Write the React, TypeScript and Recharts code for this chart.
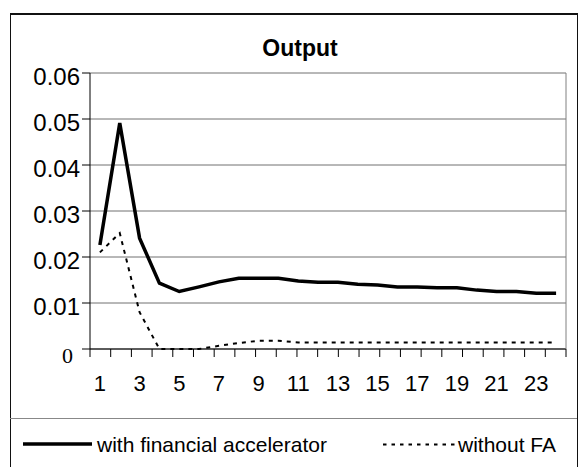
import React from "react";
import {
  LineChart,
  Line,
  XAxis,
  YAxis,
  CartesianGrid,
} from "recharts";

/* ---------- data ---------- */
const periods = [
  "1", "2", "3", "4", "5", "6", "7", "8", "9", "10", "11", "12",
  "13", "14", "15", "16", "17", "18", "19", "20", "21", "22", "23", "24",
];

const withFA = [
  0.0226, 0.0491, 0.0241, 0.0143, 0.0125, 0.0135, 0.0146, 0.0154, 0.0154, 0.0154, 0.0148, 0.0145,
  0.0145, 0.0141, 0.0139, 0.0135, 0.0135, 0.0133, 0.0133, 0.0128, 0.0125, 0.0125, 0.0121, 0.0121,
];

const withoutFA = [
  0.021, 0.0252, 0.008, 0, 0, 0, 0.0007, 0.0013, 0.0018, 0.0018, 0.0014, 0.0014,
  0.0014, 0.0014, 0.0014, 0.0014, 0.0014, 0.0014, 0.0014, 0.0014, 0.0014, 0.0014, 0.0014, 0.0014,
];

const yTicks = [0, 0.01, 0.02, 0.03, 0.04, 0.05, 0.06];
// boundaries between categories (Excel puts tick marks there)
const edgeTicks = Array.from({ length: periods.length + 1 }, (_, i) => i);

const data = periods.map((p, i) => ({
  period: p,
  withFA: withFA[i],
  withoutFA: withoutFA[i],
}));

const FONT = "'Liberation Sans', Arial, Helvetica, sans-serif";

const YTick = ({ x, y, payload }: any) => {
  if (payload.value === 0)
    return (
      <text x={x - 7} y={y + 6} dy="0.355em" textAnchor="end"
        fontFamily="'Liberation Serif', 'Times New Roman', serif" fontSize={22} fill="#000">
        0
      </text>
    );
  return (
    <text x={x} y={y + 3.5} dy="0.355em" textAnchor="end"
      fontFamily={FONT} fontSize={24} fill="#000">
      {payload.value.toFixed(2)}
    </text>
  );
};

const XTick = ({ x, y, payload, index }: any) =>
  index % 2 === 0 ? (
    <text x={x} y={y} dy="0.71em" textAnchor="middle" fontFamily={FONT} fontSize={22} fill="#000">
      {payload.value}
    </text>
  ) : (
    <g />
  );

export default function App() {
  return (
    <div style={{ position: "absolute", left: 0, top: 0, width: 579, height: 467, background: "#fff", overflow: "hidden" }}>
      {/* outer frame */}
      <div style={{
        position: "absolute", left: 10, top: 13, width: 568, height: 454,
        boxSizing: "border-box", border: "1.5px solid #111", borderTopWidth: 2, borderBottom: "none",
      }} />
      <div style={{ position: "absolute", left: 10, top: 418, width: 567, height: 1, background: "#888" }} />

      <div style={{
        position: "absolute", left: 200, top: 36.5, width: 200, textAlign: "center",
        fontFamily: FONT, fontWeight: "bold", fontSize: 23, lineHeight: "23px",
      }}>
        Output
      </div>

      <div style={{ position: "absolute", left: 0, top: 0 }}>
        <LineChart width={579} height={420} data={data}
          margin={{ top: 73, right: 12, left: 30, bottom: 12 }}>
          <CartesianGrid vertical={false} stroke="#707070" strokeWidth={1} />
          <XAxis xAxisId={0} type="number" domain={[0, periods.length]} ticks={edgeTicks}
            interval={0} tickSize={8} tickLine={{ stroke: "#000" }} axisLine={{ stroke: "#000" }}
            tick={() => <g />} height={9} />
          <XAxis xAxisId={1} dataKey="period" scale="band" interval={0} tickLine={false} axisLine={false}
            tickSize={0} tickMargin={17} tick={XTick} height={50} />
          <YAxis domain={[0, 0.06]} ticks={yTicks} interval={0} width={60}
            tickSize={8} tickMargin={2} tickLine={{ stroke: "#000" }} axisLine={{ stroke: "#000" }}
            tick={YTick} />
          <YAxis yAxisId="right" orientation="right" domain={[0, 0.06]} width={1}
            tick={false} tickLine={false} axisLine={{ stroke: "#808080" }} />
          <Line xAxisId={1} dataKey="withoutFA" type="linear" stroke="#000" strokeWidth={2}
            strokeDasharray="4 5" dot={false} isAnimationActive={false} />
          <Line xAxisId={1} dataKey="withFA" type="linear" stroke="#000" strokeWidth={3.5}
            dot={false} isAnimationActive={false} />
        </LineChart>
      </div>

      {/* legend */}
      <svg style={{ position: "absolute", left: 0, top: 428 }} width={579} height={32}>
        <line x1={23} x2={92} y1={16} y2={16} stroke="#000" strokeWidth={3.5} />
        <text x={97} y={24} fontFamily={FONT} fontSize={21} fill="#000">with financial accelerator</text>
        <line x1={383} x2={455} y1={16.5} y2={16.5} stroke="#000" strokeWidth={2} strokeDasharray="3.5 5" />
        <text x={458} y={24} fontFamily={FONT} fontSize={21} fill="#000">without FA</text>
      </svg>
    </div>
  );
}
